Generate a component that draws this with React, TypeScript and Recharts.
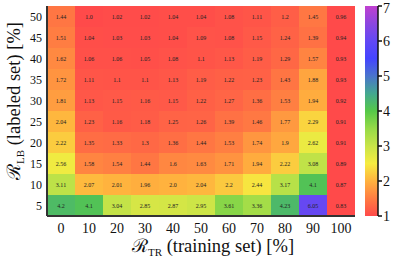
import { BarChart, Bar, XAxis, YAxis, Cell, LabelList, Label } from "recharts";

// training set ratio (columns) and labeled set ratio (rows, bottom -> top)
const trainRatios = [0, 10, 20, 30, 40, 50, 60, 70, 80, 90, 100];
const labeledRatios = [5, 10, 15, 20, 25, 30, 35, 40, 45, 50];

// one array per row of the heatmap, left -> right
const row5 = [4.2, 4.1, 3.04, 2.85, 2.87, 2.95, 3.61, 3.36, 4.23, 6.05, 0.83];
const row10 = [3.11, 2.07, 2.01, 1.96, 2.0, 2.04, 2.2, 2.44, 3.17, 4.1, 0.87];
const row15 = [2.56, 1.58, 1.54, 1.44, 1.6, 1.63, 1.71, 1.94, 2.22, 3.08, 0.89];
const row20 = [2.22, 1.35, 1.33, 1.3, 1.36, 1.44, 1.53, 1.74, 1.9, 2.62, 0.91];
const row25 = [2.04, 1.23, 1.16, 1.18, 1.25, 1.26, 1.39, 1.46, 1.77, 2.29, 0.91];
const row30 = [1.81, 1.13, 1.15, 1.16, 1.15, 1.22, 1.27, 1.36, 1.53, 1.94, 0.92];
const row35 = [1.72, 1.11, 1.1, 1.1, 1.13, 1.19, 1.22, 1.23, 1.43, 1.88, 0.93];
const row40 = [1.62, 1.06, 1.06, 1.05, 1.08, 1.1, 1.13, 1.19, 1.29, 1.57, 0.93];
const row45 = [1.51, 1.04, 1.03, 1.03, 1.04, 1.09, 1.08, 1.15, 1.24, 1.39, 0.94];
const row50 = [1.44, 1.0, 1.02, 1.02, 1.04, 1.04, 1.08, 1.11, 1.2, 1.45, 0.96];

const rows = [row5, row10, row15, row20, row25, row30, row35, row40, row45, row50];

const colorTicks = [1, 2, 3, 4, 5, 6, 7];

// colormap stops (value -> colour)
const STOPS: [number, string][] = [
  [1.0, "#ff4a4a"],
  [1.5, "#ff7c42"],
  [2.0, "#ffb23e"],
  [2.5, "#f6ec40"],
  [3.0, "#c8e448"],
  [3.5, "#96da48"],
  [4.0, "#55c848"],
  [4.5, "#44a890"],
  [5.0, "#4a74cc"],
  [5.5, "#4444ff"],
  [6.0, "#6248f4"],
  [6.5, "#8c46e0"],
  [7.0, "#c040d0"]
];

const hex = (c: string) => [1, 3, 5].map((i) => parseInt(c.slice(i, i + 2), 16));

const colorFor = (v: number) => {
  if (v <= STOPS[0][0]) return STOPS[0][1];
  for (let i = 1; i < STOPS.length; i++) {
    const [v1, c1] = STOPS[i];
    if (v <= v1) {
      const [v0, c0] = STOPS[i - 1];
      const t = (v - v0) / (v1 - v0);
      const a = hex(c0);
      const b = hex(c1);
      const m = a.map((x, k) => Math.round(x + (b[k] - x) * t));
      return `rgb(${m[0]},${m[1]},${m[2]})`;
    }
  }
  return STOPS[STOPS.length - 1][1];
};

const fmt = (v: number) => (Number.isInteger(v) ? v.toFixed(1) : String(v));

const data = trainRatios.map((x, i) => {
  const d: Record<string, number> = { x };
  labeledRatios.forEach((r, j) => {
    d[`v${r}`] = rows[j][i];
  });
  return d;
});

const FONT = "Liberation Serif, DejaVu Serif, serif";

const XTitle = (props: any) => {
  const { viewBox } = props;
  const cx = viewBox.x + viewBox.width / 2 + 12;
  return (
    <text x={cx} y={252} textAnchor="middle" fontFamily={FONT} fontSize={18.5} fill="#111">
      <tspan>ℛ</tspan>
      <tspan fontSize={11} dy={4}>TR</tspan>
      <tspan dy={-4}> (training set) [%]</tspan>
    </text>
  );
};

const YTitle = (props: any) => {
  const { viewBox } = props;
  const cy = viewBox.y + viewBox.height / 2 - 10;
  return (
    <text
      x={20}
      y={cy}
      transform={`rotate(-90, 20, ${cy})`}
      textAnchor="middle"
      fontFamily={FONT}
      fontSize={18.5}
      fill="#111"
    >
      <tspan>ℛ</tspan>
      <tspan fontSize={11} dy={4}>LB</tspan>
      <tspan dy={-4}> (labeled set) [%]</tspan>
    </text>
  );
};

const colorbarData = [{ name: "cb", range: [1, 7] }];

export default function App() {
  return (
    <div style={{ position: "absolute", left: 0, top: 0, width: 393, height: 257, background: "#fff" }}>
      <BarChart
        width={393}
        height={257}
        data={data}
        margin={{ top: 6, right: 38, bottom: 0, left: 0 }}
        barCategoryGap={0}
        style={{ position: "absolute", left: 0, top: 0 }}
      >
        <XAxis
          dataKey="x"
          height={41}
          tickLine={false}
          tickSize={5}
          tickMargin={2}
          axisLine={{ stroke: "#333", strokeWidth: 2 }}
          tick={{ fontFamily: FONT, fontSize: 14, fill: "#111" }}
        >
          <Label content={<XTitle />} />
        </XAxis>
        <YAxis
          type="number"
          domain={[0, 10]}
          ticks={labeledRatios.map((_, j) => j + 0.5)}
          tickFormatter={(v: number) => String(labeledRatios[Math.floor(v)])}
          width={47}
          tickLine={false}
          tickSize={5}
          tickMargin={0}
          axisLine={{ stroke: "#333", strokeWidth: 2 }}
          tick={{ fontFamily: FONT, fontSize: 12, fill: "#111" }}
        >
          <Label content={<YTitle />} />
        </YAxis>
        {labeledRatios.map((r, j) => (
          <Bar key={r} dataKey={() => 1} stackId="h" isAnimationActive={false}>
            {data.map((_, i) => (
              <Cell key={i} fill={colorFor(rows[j][i])} />
            ))}
            <LabelList
              dataKey={`v${r}`}
              position="center"
              formatter={(v: any) => fmt(Number(v))}
              style={{ fontFamily: FONT, fontSize: 6, fill: "#222" }}
            />
          </Bar>
        ))}
      </BarChart>

      <BarChart
        width={38}
        height={257}
        data={colorbarData}
        margin={{ top: 6, right: 0, bottom: 41, left: 10 }}
        barCategoryGap={0}
        style={{ position: "absolute", left: 355, top: 0 }}
      >
        <defs>
          <linearGradient id="cmap" x1="0" y1="1" x2="0" y2="0">
            {STOPS.map(([v, c]) => (
              <stop key={v} offset={(v - 1) / 6} stopColor={c} />
            ))}
          </linearGradient>
        </defs>
        <XAxis dataKey="name" hide />
        <YAxis
          orientation="right"
          type="number"
          domain={[1, 7]}
          ticks={colorTicks}
          width={15}
          tickSize={4}
          tickMargin={1}
          axisLine={{ stroke: "#111", strokeWidth: 1.5 }}
          tickLine={{ stroke: "#111", strokeWidth: 1.5 }}
          tick={{ fontFamily: FONT, fontSize: 14, fill: "#111" }}
        />
        <Bar dataKey="range" fill="url(#cmap)" isAnimationActive={false} />
      </BarChart>
    </div>
  );
}
